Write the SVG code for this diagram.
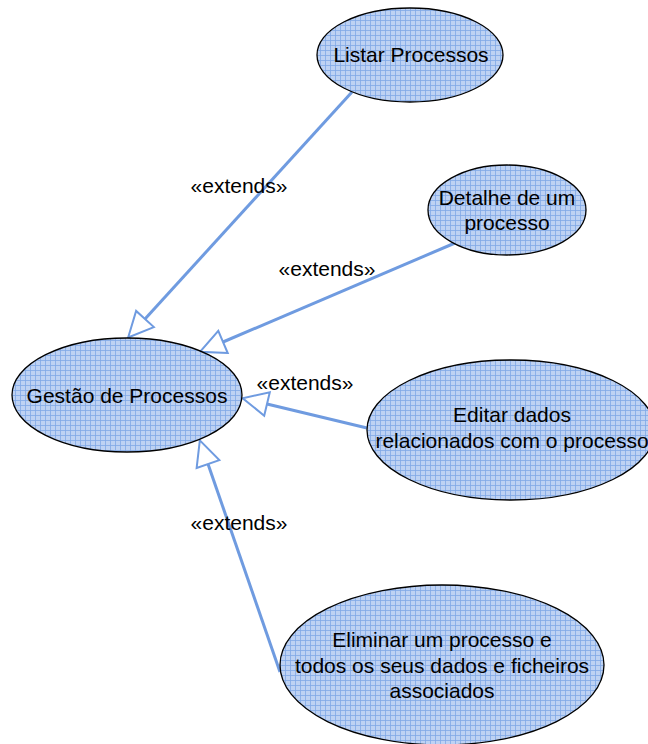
<svg xmlns="http://www.w3.org/2000/svg" width="648" height="744" viewBox="0 0 648 744">
<style>
.node{fill:url(#grid);stroke:#000;stroke-width:1.3}
.lbl{font-family:"Liberation Sans",Arial,sans-serif;font-size:21px;fill:#000;text-anchor:middle}
.ext{font-family:"Liberation Sans",Arial,sans-serif;font-size:21px;fill:#000;text-anchor:middle}
.conn{stroke:#6f9be0;stroke-width:3;fill:none;marker-end:url(#hollow)}
</style>
<defs>
<pattern id="grid" width="5" height="5" patternUnits="userSpaceOnUse">
<rect width="5" height="5" fill="#bed2f3"/>
<path d="M0,0.5H5M0.5,0V5" stroke="#80a8e6" stroke-width="0.8"/>
</pattern>
<marker id="hollow" markerUnits="userSpaceOnUse" markerWidth="30" markerHeight="30" viewBox="-2 -14 30 28" refX="0" refY="0" orient="auto">
<path d="M0,-12 L25,0 L0,12 Z" fill="#fff" stroke="#6f9be0" stroke-width="2"/>
</marker>
</defs>
<g id="connectors">
<line class="conn" x1="352" y1="92" x2="145" y2="319"/>
<line class="conn" x1="455" y1="243" x2="223" y2="342"/>
<line class="conn" x1="367" y1="428" x2="267" y2="404"/>
<line class="conn" x1="280" y1="672" x2="208" y2="464"/>
<text class="ext" x="239" y="193">«extends»</text>
<text class="ext" x="327" y="276">«extends»</text>
<text class="ext" x="305" y="390">«extends»</text>
<text class="ext" x="239" y="530">«extends»</text>
</g>
<g id="listar">
<ellipse class="node" cx="410" cy="55" rx="93" ry="47"/>
<text class="lbl" x="411" y="62">Listar Processos</text>
</g>
<g id="detalhe">
<ellipse class="node" cx="507" cy="210" rx="79" ry="45"/>
<text class="lbl" x="507" y="205">Detalhe de um</text>
<text class="lbl" x="507" y="230">processo</text>
</g>
<g id="gestao">
<ellipse class="node" cx="127" cy="395" rx="115" ry="57"/>
<text class="lbl" x="127" y="403">Gestão de Processos</text>
</g>
<g id="editar">
<ellipse class="node" cx="511" cy="430" rx="144" ry="70"/>
<text class="lbl" x="512" y="422">Editar dados</text>
<text class="lbl" x="512" y="448">relacionados com o processo</text>
</g>
<g id="eliminar">
<ellipse class="node" cx="442" cy="665" rx="162" ry="80"/>
<text class="lbl" x="442" y="647">Eliminar um processo e</text>
<text class="lbl" x="442" y="673">todos os seus dados e ficheiros</text>
<text class="lbl" x="442" y="698">associados</text>
</g>
</svg>
